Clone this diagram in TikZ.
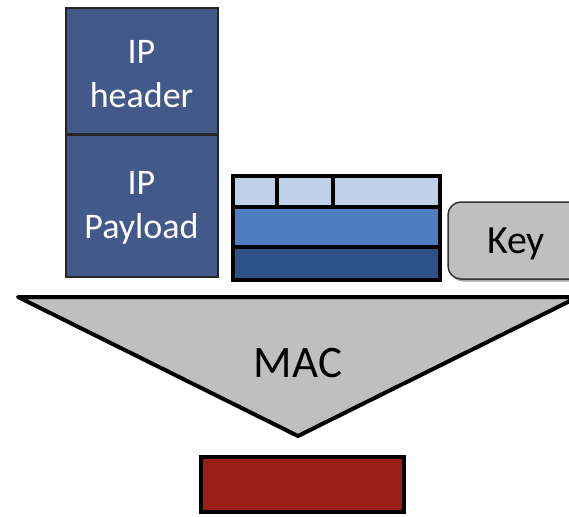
\documentclass[tikz,border=0pt]{standalone}
\usepackage{fontspec}
\setmainfont{Carlito}
\definecolor{ipblue}{HTML}{43598A}
\definecolor{lightrow}{HTML}{BFD0E8}
\definecolor{midrow}{HTML}{4F7EC0}
\definecolor{darkrow}{HTML}{2E5188}
\definecolor{keygray}{HTML}{BFBFBF}
\definecolor{macred}{HTML}{9A1E16}
\begin{document}
\begin{tikzpicture}[x=1pt,y=-1pt,
  ipbox/.style={draw=black!85, line width=2pt, fill=ipblue,
    minimum width=152pt, inner sep=0pt, outer sep=0pt},
  iptext/.style={text=white, align=center, inner sep=0pt,
    font=\fontsize{36}{44}\selectfont},
  cell/.style={draw=black, line width=4pt, inner sep=0pt, outer sep=0pt},
  keybox/.style={draw=black!80, line width=1.5pt, fill=keygray, rounded corners=13pt,
    minimum width=136pt, minimum height=77pt, inner sep=0pt, outer sep=0pt},
  bigtext/.style={inner sep=0pt, text depth=0pt},
  tagbox/.style={draw=black, line width=3.5pt, fill=macred,
    minimum width=203pt, minimum height=55pt, inner sep=0pt, outer sep=0pt}]
\useasboundingbox (0,0) rectangle (569,516);
\clip (0,0) rectangle (569,516);

% IP packet
\node[ipbox, minimum height=126pt] (hdr) at (141.5,71) {};
\node[ipbox, minimum height=142pt] (pay) at (141.5,206) {};
\node[iptext] (hdrtext) at ([yshift=-3.5pt]hdr.center) {IP\\header};
\node[iptext] (paytext) at ([yshift=-2pt]pay.center) {IP\\Payload};

% three-layer block
\node[cell, fill=darkrow, minimum width=207pt, minimum height=33pt] (bot) at (336.5,263.5) {};
\node[cell, fill=midrow, minimum width=207pt, minimum height=40.5pt] (mid) at (336.5,226.75) {};
\node[cell, fill=lightrow, minimum width=44pt, minimum height=30.5pt] (c1) at (255,191.25) {};
\node[cell, fill=lightrow, minimum width=56pt, minimum height=30.5pt] (c2) at (305,191.25) {};
\node[cell, fill=lightrow, minimum width=107pt, minimum height=30.5pt] (c3) at (386.5,191.25) {};

% key
\fill[black!35, rounded corners=13pt] (450,204) rectangle (586,281.5);
\node[keybox] (key) at (516,240.5) {};
\node[bigtext, anchor=base, font=\fontsize{40}{44}\selectfont] (keytext) at (516,253) {Key};

% MAC function
\draw[line width=4pt, line join=round, fill=keygray] (18,297) -- (578,297) -- (298,436) -- cycle;
\node[bigtext, anchor=base, font=\fontsize{45}{48}\selectfont] (mac) at (298,377) {MAC};

% output tag
\node[tagbox] (tag) at (302.5,484.5) {};
\end{tikzpicture}
\end{document}
